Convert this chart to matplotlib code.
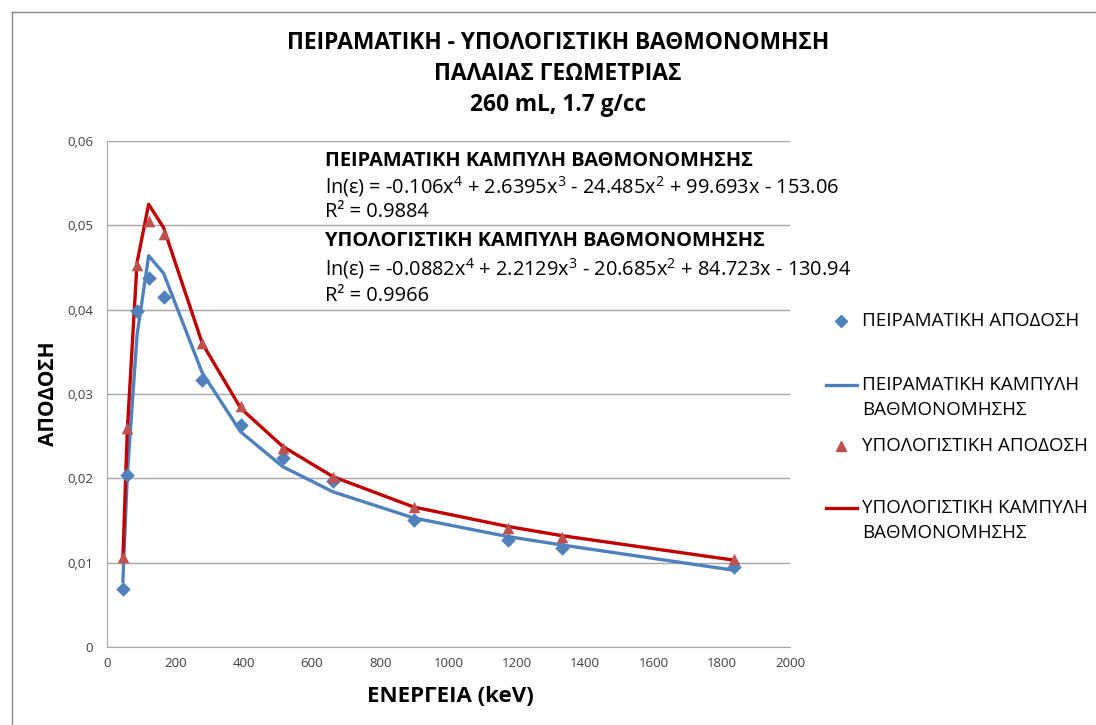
import matplotlib
matplotlib.use("Agg")
import matplotlib.pyplot as plt
from matplotlib.lines import Line2D

plt.rcParams['font.family'] = ['Open Sans', 'DejaVu Sans']
plt.rcParams['mathtext.fontset'] = 'custom'
plt.rcParams['mathtext.rm'] = 'Open Sans'

# energies of the calibration lines (keV)
energy = [46.5, 59.5, 88, 122, 165.9, 279, 391.7, 514, 661.7, 898, 1173, 1332, 1836]

exp_eff = [0.0069, 0.0204, 0.0398, 0.0438, 0.0415, 0.0317, 0.0263, 0.0224,
           0.0197, 0.0151, 0.0127, 0.0117, 0.0095]
calc_eff = [0.0107, 0.0260, 0.0453, 0.0505, 0.0490, 0.0361, 0.0286, 0.0236,
            0.0202, 0.0166, 0.0141, 0.0130, 0.0104]

# calibration curves (values of the fitted curves at each energy)
exp_curve = [0.0078, 0.0204, 0.0370, 0.0464, 0.0443, 0.0325, 0.0255, 0.0214,
             0.0184, 0.0153, 0.0131, 0.0121, 0.0091]
calc_curve = [0.0106, 0.0257, 0.0456, 0.0525, 0.0497, 0.0360, 0.0283, 0.0238,
              0.0202, 0.0166, 0.0143, 0.0132, 0.0103]

x_ticks = list(range(0, 2001, 200))
y_ticks = [0, 0.01, 0.02, 0.03, 0.04, 0.05, 0.06]
y_tick_labels = ["0", "0,01", "0,02", "0,03", "0,04", "0,05", "0,06"]

BLUE = "#4F81BD"
RED_MARK = "#C0504D"
RED_LINE = "#C00000"
W, H = 1096, 725

fig = plt.figure(figsize=(W / 100, H / 100), dpi=100)
ax = fig.add_axes([107 / W, 1 - 647 / H, (790 - 107) / W, (647 - 141) / H])

ax.plot(energy, exp_curve, color=BLUE, lw=2.4, zorder=3)
ax.plot(energy, calc_curve, color=RED_LINE, lw=2.4, zorder=3)
ax.scatter(energy, exp_eff, marker="D", s=55, color=BLUE, zorder=4, linewidths=0)
ax.scatter(energy, calc_eff, marker="^", s=70, color=RED_MARK, zorder=4, linewidths=0)

ax.set_xlim(0, 2000)
ax.set_ylim(0, 0.06)
ax.set_xticks(x_ticks)
ax.set_yticks(y_ticks)
ax.set_yticklabels(y_tick_labels)
ax.tick_params(labelsize=9.5, colors="#404040", length=0)
ax.tick_params(axis="y", pad=10)
ax.tick_params(axis="x", pad=7)
ax.grid(axis="y", color="#A6A6A6", lw=1)
ax.set_axisbelow(True)
for side in ["top", "right"]:
    ax.spines[side].set_visible(False)
for side in ["left", "bottom"]:
    ax.spines[side].set_color("#A6A6A6")

fig.text(450 / W, 1 - 697 / H, "ΕΝΕΡΓΕΙΑ (keV)", ha="center", va="center",
         fontsize=16, fontweight="bold")
fig.text(49 / W, 1 - 394 / H, "ΑΠΟΔΟΣΗ", ha="center", va="center",
         fontsize=15, fontweight="bold", rotation=90)

title_lines = ["ΠΕΙΡΑΜΑΤΙΚΗ - ΥΠΟΛΟΓΙΣΤΙΚΗ ΒΑΘΜΟΝΟΜΗΣΗ",
               "ΠΑΛΑΙΑΣ ΓΕΩΜΕΤΡΙΑΣ", "260 mL, 1.7 g/cc"]
for i, line in enumerate(title_lines):
    fig.text(558 / W, 1 - (43 + 31 * i) / H, line, ha="center", va="center",
             fontsize=16.4, fontweight="bold")

# trendline labels
eq_lines = [
    ("ΠΕΙΡΑΜΑΤΙΚΗ ΚΑΜΠΥΛΗ ΒΑΘΜΟΝΟΜΗΣΗΣ", "bold"),
    (r"ln(ε) = -0.106x$^{4}$ + 2.6395x$^{3}$ - 24.485x$^{2}$ + 99.693x - 153.06", "normal"),
    ("R² = 0.9884", "normal"),
    ("ΥΠΟΛΟΓΙΣΤΙΚΗ ΚΑΜΠΥΛΗ ΒΑΘΜΟΝΟΜΗΣΗΣ", "bold"),
    (r"ln(ε) = -0.0882x$^{4}$ + 2.2129x$^{3}$ - 20.685x$^{2}$ + 84.723x - 130.94", "normal"),
    ("R² = 0.9966", "normal"),
]
eq_y = [161, 187, 212, 241, 269, 296]
for (txt, wt), yy in zip(eq_lines, eq_y):
    fig.text(325 / W, 1 - yy / H, txt, ha="left", va="center", fontsize=14.4,
             fontweight=wt)

# legend on the right
leg = [
    ("marker", "D", BLUE, ["ΠΕΙΡΑΜΑΤΙΚΗ ΑΠΟΔΟΣΗ"], 321),
    ("line", None, BLUE, ["ΠΕΙΡΑΜΑΤΙΚΗ ΚΑΜΠΥΛΗ", "ΒΑΘΜΟΝΟΜΗΣΗΣ"], 385),
    ("marker", "^", RED_MARK, ["ΥΠΟΛΟΓΙΣΤΙΚΗ ΑΠΟΔΟΣΗ"], 446),
    ("line", None, RED_LINE, ["ΥΠΟΛΟΓΙΣΤΙΚΗ ΚΑΜΠΥΛΗ", "ΒΑΘΜΟΝΟΜΗΣΗΣ"], 508),
]
for kind, mk, col, lines, yy in leg:
    fy = 1 - yy / H
    if kind == "marker":
        fig.add_artist(Line2D([841 / W], [fy], marker=mk, color=col, ms=6.5,
                              ls="none", transform=fig.transFigure))
    else:
        fig.add_artist(Line2D([826 / W, 857 / W], [fy, fy], color=col, lw=2.4,
                              transform=fig.transFigure))
    for j, line in enumerate(lines):
        fig.text(862 / W, 1 - (yy + 25 * j) / H, line, ha="left", va="center",
                 fontsize=13.5)

# thin chart border (top and left visible)
fig.add_artist(Line2D([12 / W, 12 / W], [0, 1 - 12 / H], color="#868686", lw=1,
                      transform=fig.transFigure))
fig.add_artist(Line2D([12 / W, 1], [1 - 12 / H, 1 - 12 / H], color="#868686", lw=1,
                      transform=fig.transFigure))

fig.savefig("out.png", dpi=100)
